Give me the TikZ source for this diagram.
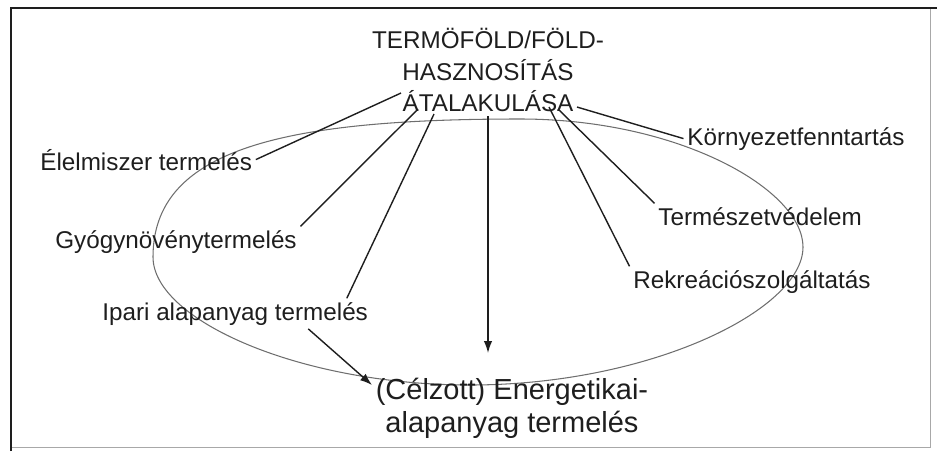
\documentclass[tikz,border=0pt]{standalone}
\usepackage{fontspec}
\setmainfont{Liberation Sans}
\usetikzlibrary{arrows.meta,calc}
\definecolor{ink}{HTML}{1E1E1E}
\definecolor{rim}{HTML}{6E6E6E}
\tikzset{
  lbl/.style={font=\fontsize{13.8}{16}\selectfont, text=ink, inner sep=2pt, anchor=base west},
  head/.style={font=\fontsize{13.8}{18}\selectfont, text=ink, inner sep=2pt, align=center},
  goal/.style={font=\fontsize{16.5}{18.8}\selectfont, text=ink, inner sep=2pt, align=center},
  ln/.style={draw=ink, line width=0.8pt},
  arr/.style={ln, -{Latex[length=2.4mm, width=1.7mm]}},
}
\begin{document}
\begin{tikzpicture}
  \useasboundingbox (0,0) rectangle (18.74,9.02);
  % ---- frame ----
  \draw[rim!60, line width=0.4pt] (18.6,8.86) -- (18.6,0.08) -- (0.22,0.08);
  \draw[ink, line width=1pt] (0.22,0) -- (0.22,8.86);
  \draw[ink, line width=1.6pt] (0.2,8.86) -- (18.74,8.86);

  % ---- oval ----
  \draw[rim, line width=0.6pt] (3.06,3.88) .. controls (3.06,6.02) and (5.6,6.64) .. (10.4,6.64)
     .. controls (13.6,6.64) and (16.06,5.22) .. (16.06,4.08)
     .. controls (16.06,2.82) and (13.0,1.32) .. (9.4,1.32)
     .. controls (6.0,1.32) and (3.06,2.62) .. (3.06,3.88) -- cycle;

  % ---- nodes ----
  \node[head, anchor=north] (title) at (9.76,8.53) {TERMÖFÖLD/FÖLD-\\HASZNOSÍTÁS\\ÁTALAKULÁSA};
  \node[lbl] (elel) at (0.73,5.62) {Élelmiszer termelés};
  \node[lbl] (gyogy) at (1.03,4.06) {Gyógynövénytermelés};
  \node[lbl] (ipari) at (1.97,2.62) {Ipari alapanyag termelés};
  \node[lbl] (korny) at (13.67,6.12) {Környezetfenntartás};
  \node[lbl] (term) at (13.09,4.52) {Természetvédelem};
  \node[lbl] (rekre) at (12.59,3.26) {Rekreációszolgáltatás};
  \node[goal, anchor=north] (energ) at (10.24,1.53) {(Célzott) Energetikai-\\alapanyag termelés};

  % ---- connectors ----
  \foreach \a/\dx/\dy in {elel.east/-1.74/0.46, gyogy.north east/-1.4/0.14,
      korny.west/1.78/0.18, term.north west/1.4/0.14, rekre.north west/1.22/0.18}
    \draw[ln] ($(title.south)+(\dx,\dy)$) -- (\a);
  \draw[ln] ($(title.south)+(-1.08,0.04)$) -- ([xshift=-5mm]ipari.north east);
  \draw[arr, shorten >=4.3mm] (title.south) -- (title.south |- energ.north);
  \draw[arr] ([xshift=-1.27cm]ipari.south east) -- ([yshift=-2.1mm]energ.north west);
\end{tikzpicture}
\end{document}
